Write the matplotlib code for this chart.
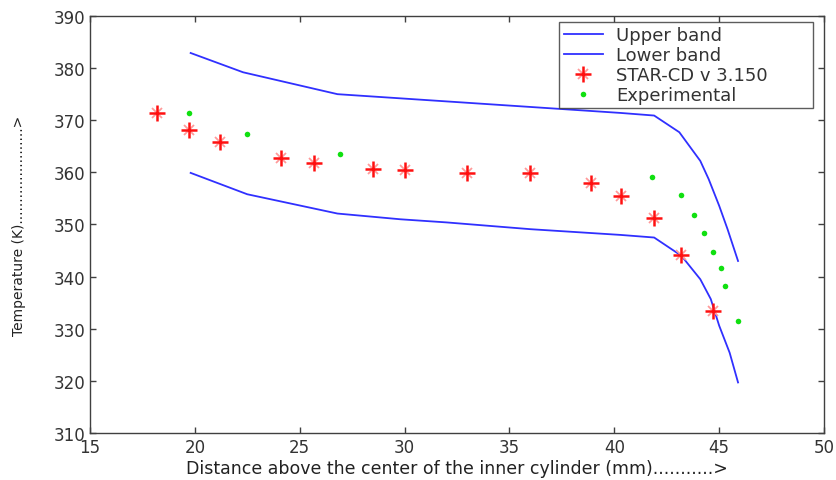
import matplotlib
matplotlib.use("Agg")
import matplotlib.pyplot as plt

# ---- data ----
upper_x = [19.8, 22.3, 26.8, 29.8, 37.3, 40.3, 41.9, 43.1, 44.1, 44.5, 45.0, 45.4, 45.9]
upper_y = [382.9, 379.2, 375.0, 374.2, 372.2, 371.4, 370.9, 367.7, 362.2, 358.7, 353.6, 349.1, 343.0]

lower_x = [19.8, 22.5, 26.8, 29.8, 32.0, 36.0, 40.3, 41.9, 43.2, 44.1, 44.6, 45.0, 45.5, 45.9]
lower_y = [359.9, 355.8, 352.1, 351.0, 350.4, 349.1, 348.0, 347.5, 344.0, 339.5, 335.7, 330.6, 325.4, 319.7]

star_x = [18.2, 19.7, 21.2, 24.1, 25.7, 28.5, 30.0, 33.0, 36.0, 38.9, 40.3, 41.9, 43.2, 44.7]
star_y = [371.3, 368.2, 365.9, 362.8, 361.8, 360.6, 360.4, 359.9, 359.8, 357.9, 355.5, 351.3, 344.1, 333.4]

exp_x = [19.7, 22.5, 26.9, 41.8, 43.2, 43.8, 44.3, 44.7, 45.1, 45.3, 45.9]
exp_y = [371.3, 367.4, 363.6, 359.2, 355.6, 351.9, 348.4, 344.8, 341.6, 338.2, 331.5]

x_ticks = [15, 20, 25, 30, 35, 40, 45, 50]
y_ticks = [310, 320, 330, 340, 350, 360, 370, 380, 390]

labels = ["Upper band", "Lower band", "STAR-CD v 3.150", "Experimental"]
xlabel = "Distance above the center of the inner cylinder (mm)...........>"
ylabel = "Temperature (K)" + "." * 22 + ">"

plt.rcParams['font.family'] = ['DejaVu Sans']

fig = plt.figure(figsize=(8.37, 4.81), dpi=100)
ax = fig.add_axes([0.1075, 0.0977, 0.8770, 0.8670])

line_c = '#3030ff'
h1, = ax.plot(upper_x, upper_y, color=line_c, lw=1.3)
h2, = ax.plot(lower_x, lower_y, color=line_c, lw=1.3)
h3a, = ax.plot(star_x, star_y, linestyle='none', marker='x', ms=7, mew=1.3,
               color='#ff9a9a')
h3b, = ax.plot(star_x, star_y, linestyle='none', marker='+', ms=11, mew=1.8,
               color='#ff1010')
h4, = ax.plot(exp_x, exp_y, linestyle='none', marker='o', ms=4, mew=0,
              color='#10e010')

ax.set_xlim(15, 50)
ax.set_ylim(310, 390)
ax.set_xticks(x_ticks)
ax.set_yticks(y_ticks)

for s in ax.spines.values():
    s.set_color('#404040')
    s.set_linewidth(1.0)
ax.tick_params(direction='in', top=True, right=True, length=4, width=1,
               colors='#404040', labelcolor='#333333', labelsize=12)

ax.set_xlabel(xlabel, fontsize=12.5, color='#222222', labelpad=2)
ax.set_ylabel(ylabel, fontsize=10, color='#222222', labelpad=20)

leg = ax.legend([h1, h2, (h3a, h3b), h4], labels,
                loc='upper left', bbox_to_anchor=(0.639, 0.0, 0.346, 0.9856),
                mode='expand',
                borderaxespad=0, frameon=True, fancybox=False, shadow=False,
                fontsize=13, handlelength=2.2, handletextpad=0.7,
                labelspacing=0.1, borderpad=0.25)
leg.get_frame().set_edgecolor('#333333')
leg.get_frame().set_linewidth(1.0)
for t in leg.get_texts():
    t.set_color('#333333')

fig.savefig("out.png", dpi=100)
